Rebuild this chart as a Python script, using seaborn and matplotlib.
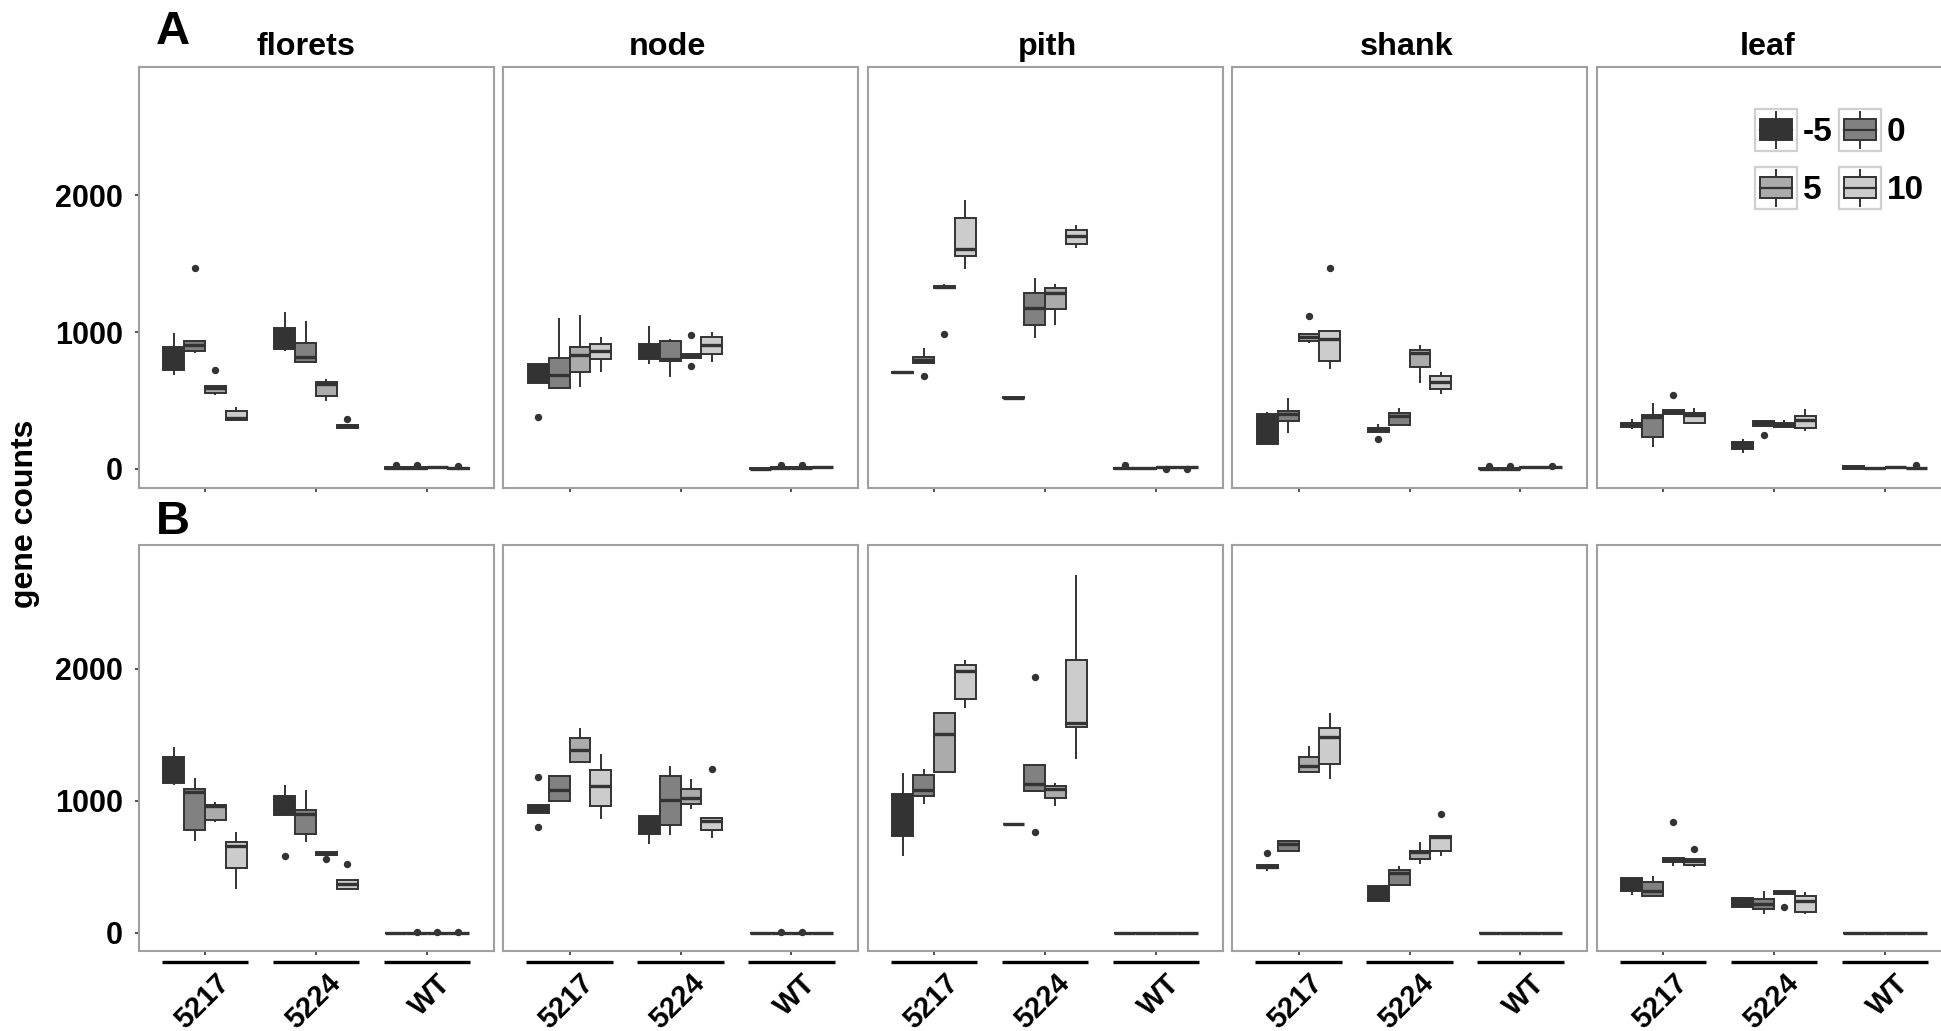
import numpy as np
import pandas as pd
import matplotlib
matplotlib.use("Agg")
import matplotlib.pyplot as plt
import matplotlib.transforms as mtransforms
import seaborn as sns
from matplotlib.patches import Rectangle
from matplotlib.lines import Line2D
from matplotlib.legend_handler import HandlerBase
from matplotlib.font_manager import FontProperties

GENOTYPES = ["5217", "5224", "WT"]
TEMPS = ["-5", "0", "5", "10"]
TISSUES = ["florets", "node", "pith", "shank", "leaf"]
Y_TICKS = [0, 1000, 2000]
TEMP_COLORS = ["#333333", "#818181", "#ababab", "#cccccc"]

# Gene counts of replicate samples, per genotype: one list per temperature (-5, 0, 5, 10)
# ---- Panel A ----
florets_a = {
    "5217": [[686, 723, 820, 893, 990], [849, 861, 905, 937, 1469],
             [540, 557, 593, 608, 723], [358, 358, 370, 423, 450]],
    "5224": [[861, 874, 950, 1031, 1148], [781, 781, 820, 917, 1080],
             [496, 535, 618, 633, 657], [300, 300, 316, 324, 365]],
    "WT": [[0, 2, 6, 12, 30], [0, 2, 6, 12, 30], [10, 12, 14, 16, 18], [0, 2, 4, 6, 20]],
}
node_a = {
    "5217": [[380, 630, 700, 764, 764], [593, 593, 686, 808, 1105],
             [601, 710, 832, 888, 1124], [706, 803, 864, 912, 961]],
    "5224": [[766, 803, 870, 912, 1044], [669, 791, 803, 934, 949],
             [752, 810, 822, 840, 978], [778, 839, 909, 961, 998]],
    "WT": [[0, 0, 2, 4, 5], [5, 6, 8, 10, 25], [5, 6, 8, 10, 25], [10, 11, 13, 15, 16]],
}
pith_a = {
    "5217": [[700, 703, 706, 709, 712], [681, 771, 771, 785, 796, 805, 820, 850, 881],
             [985, 1320, 1320, 1325, 1330, 1332, 1335, 1345, 1352], [1458, 1555, 1606, 1837, 1968]],
    "5224": [[515, 518, 520, 522, 525], [958, 1051, 1178, 1287, 1396],
             [1051, 1170, 1282, 1324, 1348], [1611, 1647, 1700, 1745, 1781]],
    "WT": [[0, 2, 4, 6, 25], [0, 2, 4, 6, 8], [0, 12, 14, 16, 18], [0, 12, 14, 16, 18]],
}
shank_a = {
    "5217": [[182, 182, 300, 399, 412], [265, 350, 399, 423, 516],
             [922, 934, 961, 983, 1117], [730, 791, 949, 1007, 1467]],
    "5224": [[215, 270, 270, 282, 290, 296, 300, 312, 325], [321, 321, 389, 411, 448],
             [625, 747, 844, 869, 905], [545, 582, 637, 679, 706]],
    "WT": [[0, 1, 2, 3, 20], [0, 1, 2, 3, 20], [8, 9, 10, 11, 12], [10, 11, 12, 13, 20]],
}
leaf_a = {
    "5217": [[290, 309, 325, 338, 362], [158, 231, 380, 394, 479],
             [399, 399, 415, 431, 540], [333, 333, 394, 411, 448]],
    "5224": [[115, 146, 170, 195, 217], [248, 314, 333, 350, 350],
             [309, 309, 321, 333, 358], [280, 302, 358, 387, 436]],
    "WT": [[0, 0, 10, 20, 20], [0, 2, 4, 6, 8], [10, 12, 14, 16, 18], [2, 4, 6, 8, 25]],
}

# ---- Panel B ----
florets_b = {
    "5217": [[1116, 1132, 1310, 1333, 1405], [692, 777, 1063, 1090, 1173],
             [840, 853, 957, 965, 991], [329, 489, 657, 689, 759]],
    "5224": [[577, 889, 889, 920, 950, 1000, 1039, 1080, 1117], [684, 745, 897, 930, 1079],
             [555, 590, 600, 609, 609], [329, 329, 369, 396, 518]],
    "WT": [[0, 0, 0, 0, 0], [0, 0, 0, 0, 5], [0, 0, 0, 0, 5], [0, 0, 0, 0, 5]],
}
node_b = {
    "5217": [[800, 905, 940, 970, 1180], [997, 997, 1084, 1185, 1197],
             [1293, 1293, 1387, 1479, 1555], [863, 959, 1109, 1235, 1357]],
    "5224": [[668, 744, 800, 881, 881], [741, 818, 1008, 1185, 1261],
             [934, 972, 1023, 1091, 1167], [716, 780, 845, 868, 1240]],
    "WT": [[0, 0, 0, 0, 0], [0, 0, 0, 0, 5], [0, 0, 0, 0, 5], [0, 0, 0, 0, 0]],
}
pith_b = {
    "5217": [[584, 731, 900, 1053, 1213], [972, 1035, 1084, 1197, 1238],
             [1220, 1220, 1509, 1663, 1663], [1707, 1770, 1985, 2028, 2066]],
    "5224": [[820, 823, 825, 827, 830], [760, 1073, 1129, 1268, 1935],
             [959, 1023, 1091, 1111, 1137], [1314, 1560, 1593, 2064, 2712]],
    "WT": [[0, 0, 0, 0, 0], [0, 0, 0, 0, 0], [0, 0, 0, 0, 0], [0, 0, 0, 0, 0]],
}
shank_b = {
    "5217": [[470, 488, 500, 514, 605], [617, 617, 668, 698, 698],
             [1217, 1217, 1263, 1331, 1418], [1167, 1278, 1483, 1555, 1666]],
    "5224": [[242, 242, 300, 356, 356], [364, 364, 453, 478, 503],
             [521, 559, 609, 622, 685], [584, 620, 722, 730, 900]],
    "WT": [[0, 0, 0, 0, 0], [0, 0, 0, 0, 0], [0, 0, 0, 0, 0], [0, 0, 0, 0, 0]],
}
leaf_b = {
    "5217": [[288, 313, 380, 417, 417], [275, 275, 318, 382, 432],
             [508, 534, 550, 564, 835], [496, 515, 546, 560, 632]],
    "5224": [[192, 192, 230, 260, 273], [141, 179, 217, 255, 318],
             [192, 293, 305, 318, 318], [141, 154, 242, 280, 306]],
    "WT": [[0, 0, 0, 0, 0], [0, 0, 0, 0, 0], [0, 0, 0, 0, 0], [0, 0, 0, 0, 0]],
}

PANELS = {
    "A": [florets_a, node_a, pith_a, shank_a, leaf_a],
    "B": [florets_b, node_b, pith_b, shank_b, leaf_b],
}


def to_long(panel):
    rows = []
    for g in GENOTYPES:
        for t, vals in zip(TEMPS, panel[g]):
            for v in vals:
                rows.append({"genotype": g, "temp": t, "count": v})
    return pd.DataFrame(rows)


class BoxKeyHandler(HandlerBase):
    """Legend key drawn as a small boxplot glyph inside a light frame."""

    def create_artists(self, legend, orig_handle, xdescent, ydescent,
                       width, height, fontsize, trans):
        fc = orig_handle.get_facecolor()
        x0, y0 = -xdescent, -ydescent
        frame = Rectangle((x0, y0), width, height, facecolor="white",
                          edgecolor="#d0d0d0", lw=1.6, transform=trans)
        bw, bh = width * 0.76, height * 0.5
        bx, by = x0 + (width - bw) / 2, y0 + (height - bh) / 2
        cx = x0 + width / 2
        w_lo = Line2D([cx, cx], [y0 + height * 0.08, by], color="#333333",
                      lw=1.4, transform=trans)
        w_hi = Line2D([cx, cx], [by + bh, y0 + height * 0.92], color="#333333",
                      lw=1.4, transform=trans)
        box = Rectangle((bx, by), bw, bh, facecolor=fc, edgecolor="#333333",
                        lw=1.4, transform=trans)
        med = Line2D([bx, bx + bw], [by + bh / 2] * 2, color="#333333",
                     lw=1.6, transform=trans)
        return [frame, w_lo, w_hi, box, med]


plt.rcParams["font.family"] = ["Liberation Sans", "DejaVu Sans"]
plt.rcParams["font.weight"] = "bold"

W, H = 1941, 1031
fig = plt.figure(figsize=(W / 100, H / 100), dpi=100)
fig.patch.set_facecolor("white")

LEFT0, STEP, PW = 138.5, 364.5, 355.0
ROWS = {"A": (66.7, 488.0), "B": (545.0, 951.0)}
TITLE_SHIFT = [-10, -13, 2, -3, -6]

for row, panels in PANELS.items():
    top, bot = ROWS[row]
    for c, (tissue, panel) in enumerate(zip(TISSUES, panels)):
        left = LEFT0 + c * STEP
        ax = fig.add_axes([left / W, 1 - bot / H, PW / W, (bot - top) / H])
        df = to_long(panel)
        sns.boxplot(
            data=df, x="genotype", y="count", hue="temp",
            order=GENOTYPES, hue_order=TEMPS, palette=TEMP_COLORS,
            width=0.75, gap=0, dodge=True, saturation=1,
            linecolor="#333333", linewidth=1.4, fliersize=4.3,
            showcaps=False,
            medianprops={"linewidth": 2.4},
            flierprops={"marker": "o", "markerfacecolor": "#333333",
                        "markeredgecolor": "#333333"},
            legend=False, ax=ax,
        )
        ax.set_xlim(-0.6, 2.6)
        ax.set_ylim(-140, 2940)
        ax.set_xlabel("")
        ax.set_ylabel("")
        ax.set_facecolor("white")
        for sp in ax.spines.values():
            sp.set_color("#a0a0a0")
            sp.set_linewidth(1.5)
        ax.set_xticks(range(len(GENOTYPES)))
        ax.tick_params(axis="x", length=3, width=1.2, color="#333333")
        if c == 0:
            ax.set_yticks(Y_TICKS)
            ax.set_yticklabels([str(t) for t in Y_TICKS])
            ax.tick_params(axis="y", length=3, width=1.2, color="#333333",
                           labelsize=22, labelcolor="black", pad=8)
        else:
            ax.set_yticks([])

        if row == "A":
            ax.set_xticklabels([])
            ax.set_title(tissue, fontsize=23.3, fontweight="bold", pad=8.4,
                         x=0.5 + TITLE_SHIFT[c] / PW)
        else:
            ax.set_xticklabels(GENOTYPES, rotation=45, ha="right", va="top",
                               rotation_mode="anchor", fontsize=21,
                               color="black")
            ax.tick_params(axis="x", pad=10)
            shift = mtransforms.ScaledTranslation(10 / 100, 0, fig.dpi_scale_trans)
            for lbl in ax.get_xticklabels():
                lbl.set_transform(lbl.get_transform() + shift)
            # underline beneath each genotype group
            xt = ax.get_xaxis_transform()
            for i in range(len(GENOTYPES)):
                ax.plot([i - 0.39, i + 0.39], [-10.5 / (bot - top)] * 2,
                        transform=xt, color="black", lw=2.4,
                        solid_capstyle="butt", clip_on=False)

    fig.text(156 / W, 1 - (44 if row == "A" else 534) / H, row,
             fontsize=34, fontweight="bold", va="baseline", ha="left")

fig.text(25 / W, 1 - 514 / H, "gene counts", rotation=90, fontsize=23,
         fontweight="bold", ha="center", va="center")

# legend: 2 x 2 grid of boxplot keys
handles = [Rectangle((0, 0), 1, 1, facecolor=col) for col in TEMP_COLORS]
order = [0, 2, 1, 3]
fig.legend(
    [handles[i] for i in order], [TEMPS[i] for i in order],
    loc="upper left", bbox_to_anchor=(1755 / W, 1 - 109 / H),
    bbox_transform=fig.transFigure, ncol=2, frameon=False,
    prop=FontProperties(family=["Liberation Sans", "DejaVu Sans"],
                        weight="bold", size=24),
    handlelength=1.26, handleheight=1.56, handletextpad=0.18,
    columnspacing=0.18, labelspacing=0.48, borderpad=0, borderaxespad=0,
    handler_map={Rectangle: BoxKeyHandler()},
)

fig.savefig("out.png", dpi=100, facecolor="white")
